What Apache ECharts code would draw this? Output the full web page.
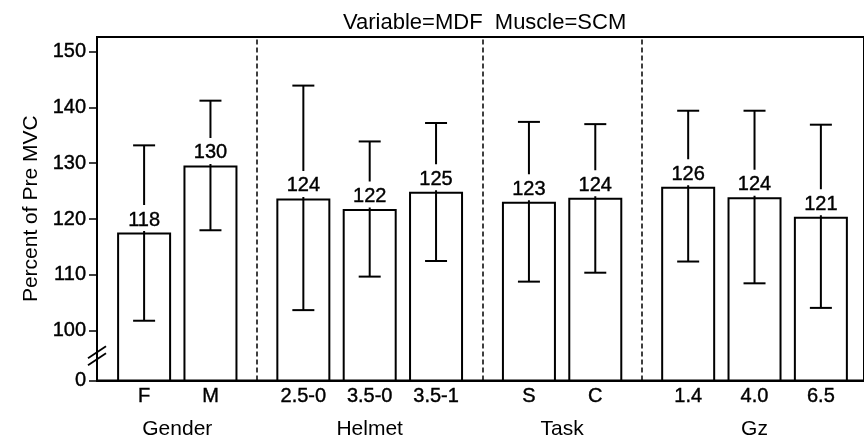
<!DOCTYPE html>
<html>
<head>
<meta charset="utf-8">
<script src="https://cdn.jsdelivr.net/npm/echarts@6/dist/echarts.min.js"></script>
<style>
  html, body { margin: 0; padding: 0; background: #fff; }
  #chart { width: 864px; height: 443px; }
</style>
</head>
<body>
<div id="chart"></div>
<script>
const categories = ['F', 'M', '2.5-0', '3.5-0', '3.5-1', 'S', 'C', '1.4', '4.0', '6.5'];
const groupNames = ['Gender', 'Helmet', 'Task', 'Gz'];
const groupSizes = [2, 3, 2, 3];
const means = [117.6, 129.6, 123.7, 121.8, 124.9, 123.1, 123.8, 125.8, 123.9, 120.4];
const lows = [101.8, 118.0, 103.7, 109.7, 112.5, 108.8, 110.4, 112.4, 108.5, 104.1];
const highs = [133.2, 141.2, 143.9, 133.9, 137.2, 137.4, 137.0, 139.4, 139.4, 136.9];
const meanLabels = ['118', '130', '124', '122', '125', '123', '124', '126', '124', '121'];
const yTicks = [0, 100, 110, 120, 130, 140, 150];

const FONT = 'Liberation Sans, Arial, sans-serif';

// axis is broken between 0 and 100: 0 is drawn a short way below 100
const breakGap = 8.9;
const yMin = 100 - breakGap;
const yMax = 152.6;
const toAxis = v => (v === 0 ? yMin : v);
const yTickPos = yTicks.map(toAxis);

// x slot of each bar, one unit per bar plus a gap between groups
const groupGap = 0.4;
const slots = [];
const groupCenters = [];
const separators = [];
let pos = 0;
groupSizes.forEach((n, g) => {
  if (g > 0) pos += groupGap;
  const start = pos;
  for (let i = 0; i < n; i++) {
    slots.push(pos);
    pos += 1;
  }
  groupCenters.push((start + pos - 1) / 2);
});
let idx = 0;
groupSizes.forEach((n, g) => {
  if (g > 0) separators.push((slots[idx - 1] + slots[idx]) / 2);
  idx += n;
});
const xMin = -0.71;
const xMax = slots[slots.length - 1] + 0.65;

const barData = slots.map((x, i) => [x, means[i]]);
const errData = slots.map((x, i) => [x, lows[i], highs[i], means[i], i]);

const chart = echarts.init(document.getElementById('chart'));

chart.setOption({
  animation: false,
  backgroundColor: '#fff',
  title: {
    text: 'Variable=MDF  Muscle=SCM',
    left: 338,
    top: 7,
    textStyle: { fontFamily: FONT, fontSize: 22, fontWeight: 'normal', color: '#000' }
  },
  grid: {
    left: 97,
    right: -4,
    top: 37,
    bottom: 62.5,
    show: true,
    borderColor: '#000',
    borderWidth: 2,
    backgroundColor: 'transparent'
  },
  xAxis: [
    {
      type: 'value',
      min: xMin,
      max: xMax,
      axisLine: { show: true, onZero: false, lineStyle: { color: '#000', width: 2 } },
      axisTick: { show: false },
      splitLine: { show: false },
      axisLabel: {
        customValues: slots,
        margin: 6,
        fontFamily: FONT,
        fontSize: 20,
        color: '#000',
        textBorderColor: '#000',
        textBorderWidth: 0.4,
        formatter: v => categories[slots.findIndex(s => Math.abs(s - v) < 1e-6)]
      }
    },
    {
      type: 'value',
      position: 'bottom',
      offset: 32,
      min: xMin,
      max: xMax,
      axisLine: { show: false, onZero: false },
      axisTick: { show: false },
      splitLine: { show: false },
      axisLabel: {
        customValues: groupCenters,
        margin: 6,
        fontFamily: FONT,
        fontSize: 21,
        color: '#000',
        formatter: v => groupNames[groupCenters.findIndex(s => Math.abs(s - v) < 1e-6)]
      }
    }
  ],
  yAxis: {
    type: 'value',
    min: yMin,
    max: yMax,
    name: 'Percent of Pre MVC',
    nameLocation: 'middle',
    nameGap: 54,
    nameRotate: 90,
    nameTextStyle: { fontFamily: FONT, fontSize: 21, color: '#000' },
    axisLine: { show: true, onZero: false, lineStyle: { color: '#000', width: 2 } },
    axisTick: { show: true, customValues: yTickPos, length: 8, lineStyle: { color: '#000', width: 1.5 } },
    splitLine: { show: false },
    axisLabel: {
      customValues: yTickPos,
      margin: 11,
      fontFamily: FONT,
      fontSize: 20,
      color: '#000',
      textBorderColor: '#000',
      textBorderWidth: 0.4,
      formatter: v => String(yTicks[yTickPos.findIndex(t => Math.abs(t - v) < 1e-6)])
    }
  },
  series: [
    {
      type: 'bar',
      data: barData,
      barWidth: 54,
      z: 2,
      itemStyle: { color: '#fff', borderColor: '#000', borderWidth: 2 },
      markLine: {
        silent: true,
        symbol: 'none',
        label: { show: false },
        lineStyle: { color: '#000', width: 1.5, type: [5, 3] },
        data: separators.map(x => ({ xAxis: x }))
      }
    },
    {
      type: 'custom',
      data: errData,
      z: 3,
      renderItem: (params, api) => {
        const x = api.value(0);
        const lo = api.coord([x, api.value(1)]);
        const hi = api.coord([x, api.value(2)]);
        const top = api.coord([x, api.value(3)]);
        const i = api.value(4);
        const cap = 11;
        const line = { stroke: '#000', lineWidth: 2 };
        return {
          type: 'group',
          children: [
            { type: 'line', shape: { x1: lo[0], y1: lo[1], x2: hi[0], y2: hi[1] }, style: line },
            { type: 'line', shape: { x1: lo[0] - cap, y1: lo[1], x2: lo[0] + cap, y2: lo[1] }, style: line },
            { type: 'line', shape: { x1: hi[0] - cap, y1: hi[1], x2: hi[0] + cap, y2: hi[1] }, style: line },
            {
              type: 'text',
              x: top[0],
              y: top[1] - 1.5,
              style: {
                text: meanLabels[i],
                fill: '#000',
                stroke: '#000',
                lineWidth: 0.4,
                font: '20px ' + FONT,
                align: 'center',
                verticalAlign: 'bottom',
                backgroundColor: '#fff',
                padding: [5, 2, 1, 2]
              }
            }
          ]
        };
      }
    }
  ]
});

// "//" marks on the y axis line where the scale is broken
const mid = chart.convertToPixel({ gridIndex: 0 }, [xMin, (yMin + 100) / 2]);
const breakMarks = [-3.5, 3.5].map(dy => ({
  type: 'line',
  shape: { x1: mid[0] - 9, y1: mid[1] + dy + 6, x2: mid[0] + 9, y2: mid[1] + dy - 6 },
  style: { stroke: '#000', lineWidth: 1.8 },
  z: 10
}));
chart.setOption({ graphic: breakMarks });
</script>
</body>
</html>
